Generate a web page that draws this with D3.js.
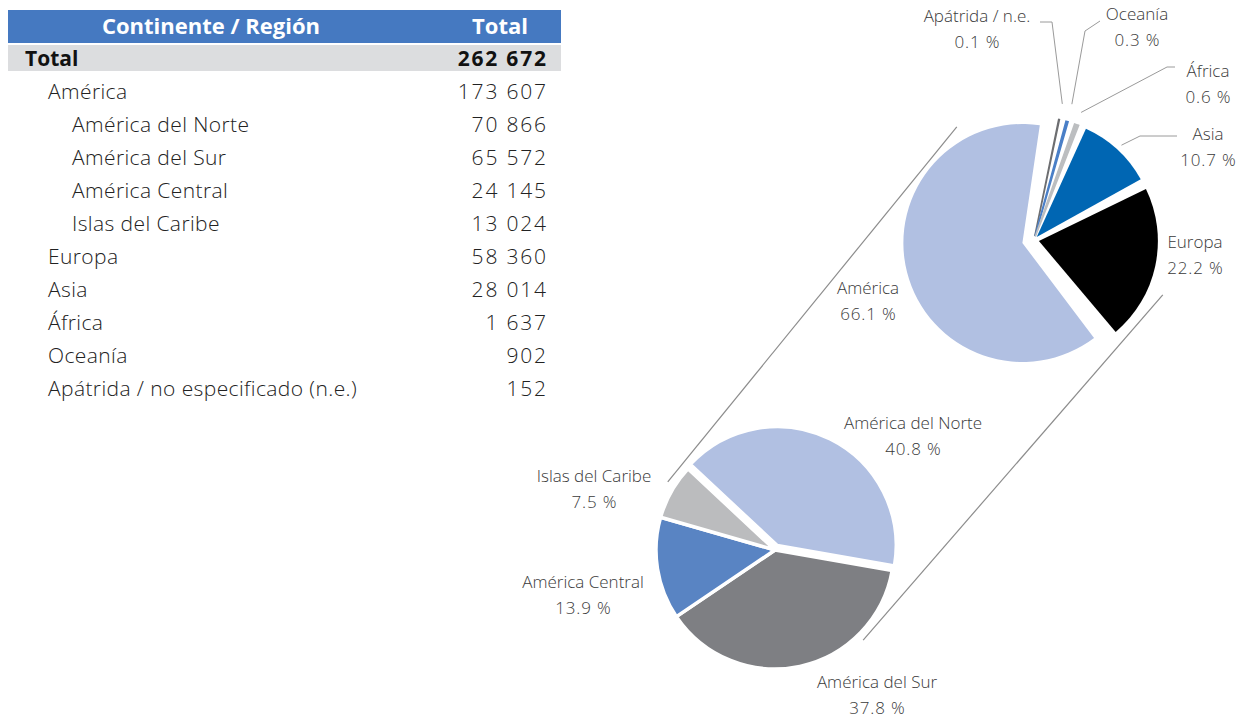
<!DOCTYPE html>
<html>
<head>
<meta charset="utf-8">
<script src="https://cdn.jsdelivr.net/npm/d3@7"></script>
<style>
  body { margin: 0; background: #fff; }
  text { font-family: "Open Sans", Lato, sans-serif; }
</style>
</head>
<body>
<svg id="chart" width="1238" height="719"></svg>
<script>
// ---- table data
const regionNames = ["América", "América del Norte", "América del Sur", "América Central", "Islas del Caribe",
                     "Europa", "Asia", "África", "Oceanía", "Apátrida / no especificado (n.e.)"];
const regionTotals = [173607, 70866, 65572, 24145, 13024, 58360, 28014, 1637, 902, 152];
const regionLevels = [1, 2, 2, 2, 2, 1, 1, 1, 1, 1];
const grandTotal = 262672;

// ---- continent pie (top)
const contNames = ["Apátrida / n.e.", "Oceanía", "África", "Asia", "Europa", "América"];
const contShares = [0.1, 0.3, 0.6, 10.7, 22.2, 66.1];

// ---- America breakdown pie (bottom)
const amerNames = ["América del Norte", "América del Sur", "América Central", "Islas del Caribe"];
const amerShares = [40.8, 37.8, 13.9, 7.5];

// colours
const contColors = ["#6d6e71", "#4a7fc7", "#bcbec0", "#0066b3", "#000000", "#b1c0e2"];
const amerColors = ["#b1c0e2", "#7e7f83", "#5984c3", "#bbbcbe"];

// layout (offsets from pie centres, label anchors etc.)
const R = 119;
const deg = Math.PI / 180;
const topC = [1034, 240], botC = [775, 550];
const topExplode = [4, 4, 4, 4, 5, 12];
const botExplode = [5, 0, 0, 0];
const topLabelOff = [[-57, -224], [103, -226], [174, -169], [174, -106], [161, 2], [-166, 48]];
const botLabelOff = [[138, -127], [102, 132], [-192, 32], [-181, -74]];
// leader: [ext beyond radius, elbow offset from label, end offset from label]
const topLeaders = [[16, [75, 6], [63, 6]], [18, [-52, 17], [-37, 7]], [13, [-41, -4], [-33, -4]], [6, [-68, 2], [-31, 2]], null, null];

const svg = d3.select("#chart");
const fmt = d3.formatLocale({ decimal: ".", thousands: " ", grouping: [3], currency: ["", ""] }).format(",");
const pct = v => d3.format(".1f")(v) + " %";
const polar = (a, r) => [Math.sin(a) * r, -Math.cos(a) * r];

// ================= table =================
const numSp = 1.8; // wide digits in the original
const tbl = svg.append("g");
tbl.append("rect").attr("x", 8).attr("y", 10).attr("width", 553).attr("height", 33).attr("fill", "#4579c1");
tbl.append("rect").attr("x", 8).attr("y", 45).attr("width", 553).attr("height", 26).attr("fill", "#dcdddf");
tbl.append("text").attr("x", 211).attr("y", 34).attr("text-anchor", "middle")
  .attr("fill", "#fff").attr("font-size", 22).attr("font-weight", 700).text("Continente / Región");
tbl.append("text").attr("x", 500).attr("y", 34).attr("text-anchor", "middle")
  .attr("fill", "#fff").attr("font-size", 22).attr("font-weight", 700).text("Total");
tbl.append("text").attr("x", 25).attr("y", 66).attr("fill", "#111")
  .attr("font-size", 21).attr("font-weight", 700).text("Total");
tbl.append("text").attr("x", 546 + numSp).attr("y", 66).attr("text-anchor", "end").attr("fill", "#111")
  .attr("font-size", 21).attr("font-weight", 700).attr("letter-spacing", numSp).text(fmt(grandTotal));

const rowY = d3.scaleLinear().domain([0, 1]).range([92, 125]);
const rows = tbl.selectAll("g.row").data(regionNames).join("g").attr("class", "row")
  .attr("transform", (d, i) => `translate(0,${rowY(i) + 7})`);
rows.append("text").attr("x", (d, i) => regionLevels[i] === 1 ? 48 : 72)
  .attr("fill", "#222").attr("font-size", 21).attr("font-weight", 300).attr("letter-spacing", 0.4).text(d => d);
rows.append("text").attr("x", 546 + numSp).attr("text-anchor", "end")
  .attr("fill", "#222").attr("font-size", 21).attr("font-weight", 300).attr("letter-spacing", numSp)
  .text((d, i) => fmt(regionTotals[i]));

// ================= connectors =================
const connectors = [
  { a0: 325.7, r0: R + 18, a1: 302.4, r1: R + 8 },
  { a0: 113.1, r0: R + 21, a1: 135.6, r1: R + 7 }
];
svg.append("g").selectAll("line").data(connectors).join("line")
  .attr("x1", d => topC[0] + polar(d.a0 * deg, d.r0)[0])
  .attr("y1", d => topC[1] + polar(d.a0 * deg, d.r0)[1])
  .attr("x2", d => botC[0] + polar(d.a1 * deg, d.r1)[0])
  .attr("y2", d => botC[1] + polar(d.a1 * deg, d.r1)[1])
  .attr("stroke", "#8c8c8c").attr("stroke-width", 1.2);

// ================= top pie =================
const arc = d3.arc().innerRadius(0).outerRadius(R);
const topPie = d3.pie().sort(null).value(d => d)
  .startAngle(10 * deg).endAngle(370 * deg).padAngle(0.055);
const topArcs = topPie(contShares);
const gTop = svg.append("g").attr("transform", `translate(${topC})`);

gTop.selectAll("path").data(topArcs).join("path")
  .attr("transform", (d, i) => {
    const m = (d.startAngle + d.endAngle) / 2;
    return `translate(${polar(m, topExplode[i])})`;
  })
  .attr("d", arc)
  .attr("fill", (d, i) => contColors[i])
  .attr("stroke", (d, i) => d.data < 1 ? contColors[i] : "none")
  .attr("stroke-width", 1.6);

// leaders
gTop.selectAll("polyline").data(topArcs.map((d, i) => [d, i]).filter(p => topLeaders[p[1]]))
  .join("polyline")
  .attr("points", ([d, i]) => {
    const m = (d.startAngle + d.endAngle) / 2;
    const [ext, elb, end] = topLeaders[i];
    const o = polar(m, topExplode[i]);
    const s = polar(m, R + ext);
    const L = topLabelOff[i];
    return [[s[0] + o[0], s[1] + o[1]], [L[0] + elb[0], L[1] + elb[1]], [L[0] + end[0], L[1] + end[1]]].join(" ");
  })
  .attr("fill", "none").attr("stroke", "#9a9a9a").attr("stroke-width", 1);

function drawLabels(g, names, shares, offs) {
  const t = g.selectAll("text.lbl").data(names).join("text").attr("class", "lbl")
    .attr("text-anchor", "middle").attr("font-size", 17).attr("font-weight", 300).attr("fill", "#3a3a3a");
  t.append("tspan").attr("x", (d, i) => offs[i][0]).attr("y", (d, i) => offs[i][1] + 6).text(d => d);
  t.append("tspan").attr("x", (d, i) => offs[i][0] + 0.4).attr("y", (d, i) => offs[i][1] + 32)
    .attr("letter-spacing", 0.8).text((d, i) => pct(shares[i]));
}
drawLabels(gTop, contNames, contShares, topLabelOff);

// ================= bottom pie =================
const botPie = d3.pie().sort(null).value(d => d)
  .startAngle(-47 * deg).endAngle(313 * deg);
const botArcs = botPie(amerShares);
const gBot = svg.append("g").attr("transform", `translate(${botC})`);
gBot.selectAll("path").data(botArcs).join("path")
  .attr("transform", (d, i) => {
    const m = (d.startAngle + d.endAngle) / 2;
    return `translate(${polar(m, botExplode[i])})`;
  })
  .attr("d", arc)
  .attr("fill", (d, i) => amerColors[i])
  .attr("stroke", "#fff").attr("stroke-width", 3.5).attr("stroke-linejoin", "round");
drawLabels(gBot, amerNames, amerShares, botLabelOff);
</script>
</body>
</html>
